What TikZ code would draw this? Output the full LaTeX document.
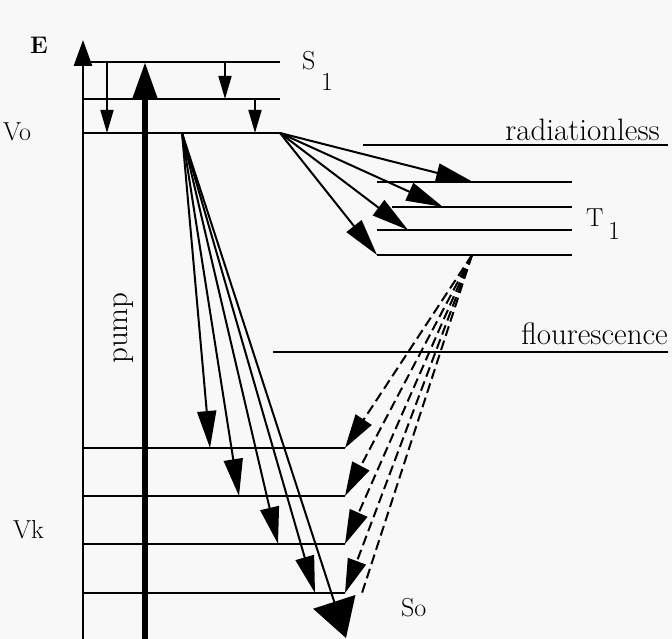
\documentclass[tikz,border=0pt]{standalone}
\usepackage{fontspec}
\usetikzlibrary{arrows.meta}
\definecolor{paper}{RGB}{248,248,248}
\begin{document}
\begin{tikzpicture}[x=1pt,y=-1pt,
  level/.style={line width=2.8pt},
  trans/.style={line width=2pt,-{Triangle[length=37pt,width=19pt]}},
  small/.style={line width=1.7pt,-{Triangle[length=23pt,width=13pt]}},
  dashtrans/.style={line width=2pt,dash pattern=on 10pt off 5pt,-{Triangle[length=34pt,width=19pt]}},
  dashplain/.style={line width=2pt,dash pattern=on 10pt off 5pt},
  lab/.style={inner sep=0pt,font=\fontsize{31}{35}\selectfont},
  mid/.style={inner sep=0pt,font=\fontsize{26}{30}\selectfont}]
\fill[paper] (0,0) rectangle (672,639);
\useasboundingbox (0,0) rectangle (672,639);
% axis and pump
\coordinate (ax0) at (83,639); \coordinate (ax1) at (83,40);
\draw[line width=2.8pt,-{Triangle[length=26pt,width=18pt]}] (ax0) -- (ax1);
\coordinate (p0) at (145,639); \coordinate (p1) at (145,62);
\draw[line width=6.5pt,-{Triangle[length=36pt,width=23pt]}] (p0) -- (p1);
% S1 levels
\foreach \y/\n in {62/s1a,99/s1b,133/s1c}{
  \coordinate (\n L) at (83,\y); \coordinate (\n R) at (280,\y);
  \draw[level] (\n L) -- (\n R);}
% relaxation in S1
\coordinate (r1a) at (107,62); \coordinate (r1b) at (107,133);
\coordinate (r2a) at (225,62); \coordinate (r2b) at (225,99);
\coordinate (r3a) at (255,99); \coordinate (r3b) at (255,133);
\draw[small] (r1a) -- (r1b);
\draw[small] (r2a) -- (r2b);
\draw[small] (r3a) -- (r3b);
% T1 levels
\coordinate (t1L) at (377,182); \coordinate (t1R) at (572,182);
\coordinate (t2L) at (392,207); \coordinate (t2R) at (572,207);
\coordinate (t3L) at (377,230); \coordinate (t3R) at (572,230);
\coordinate (t4L) at (377,255); \coordinate (t4R) at (572,255);
\foreach \n in {t1,t2,t3,t4}{\draw[level] (\n L) -- (\n R);}
% radiationless and fluorescence lines
\coordinate (radL) at (363,145); \coordinate (radR) at (668,145);
\draw[level] (radL) -- (radR);
\coordinate (fluL) at (273,352); \coordinate (fluR) at (668,352);
\draw[level] (fluL) -- (fluR);
% S0 levels
\foreach \y/\n in {448/g1,496/g2,544/g3,593/g4}{
  \coordinate (\n L) at (83,\y); \coordinate (\n R) at (345,\y);
  \draw[level] (\n L) -- (\n R);}
% intersystem crossing fan
\coordinate (a1) at (473,182); \coordinate (a2) at (443,207);
\coordinate (a3) at (408,230);
\draw[trans] (s1cR) -- (a1);
\draw[trans] (s1cR) -- (a2);
\draw[trans] (s1cR) -- (a3);
\draw[trans] (s1cR) -- (t4L);
% fluorescence fan
\coordinate (fo) at (182,133);
\coordinate (b1) at (210,448); \coordinate (b2) at (239,496);
\coordinate (b3) at (278,544); \coordinate (b4) at (315,593);
\coordinate (b5) at (346,638);
\draw[trans] (fo) -- (b1);
\draw[trans] (fo) -- (b2);
\draw[trans] (fo) -- (b3);
\draw[trans] (fo) -- (b4);
\draw[line width=2pt,-{Triangle[length=38pt,width=44pt]}] (fo) -- (b5);
% phosphorescence (dashed)
\coordinate (po) at (472,255); \coordinate (c5) at (362,593);
\draw[dashtrans] (po) -- (g1R);
\draw[dashtrans] (po) -- (g2R);
\draw[dashtrans] (po) -- (g3R);
\draw[dashtrans] (po) -- (g4R);
\draw[dashplain] (po) -- (c5);
% labels
\node[inner sep=0pt,anchor=base west,font=\fontsize{24}{28}\selectfont\bfseries] (lE) at (30,54) {E};
\node[mid,anchor=base west] (lVo) at (3,141) {Vo};
\node[mid,anchor=base west] (lVk) at (13,538) {Vk};
\node[mid,anchor=base west] (lS) at (302,70) {S};
\node[mid,anchor=base west] (lS1) at (321,91) {1};
\node[mid,anchor=base west] (lT) at (586,227) {T};
\node[mid,anchor=base west] (lT1) at (608,240) {1};
\node[mid,anchor=base west] (lSo) at (401,616) {So};
\node[lab,anchor=base east] (lrad) at (660,141) {radiationless};
\node[lab,anchor=base east] (lflu) at (668,344) {flourescence};
\node[lab,rotate=90] (lpump) at (124,328) {pump};
\end{tikzpicture}
\end{document}
